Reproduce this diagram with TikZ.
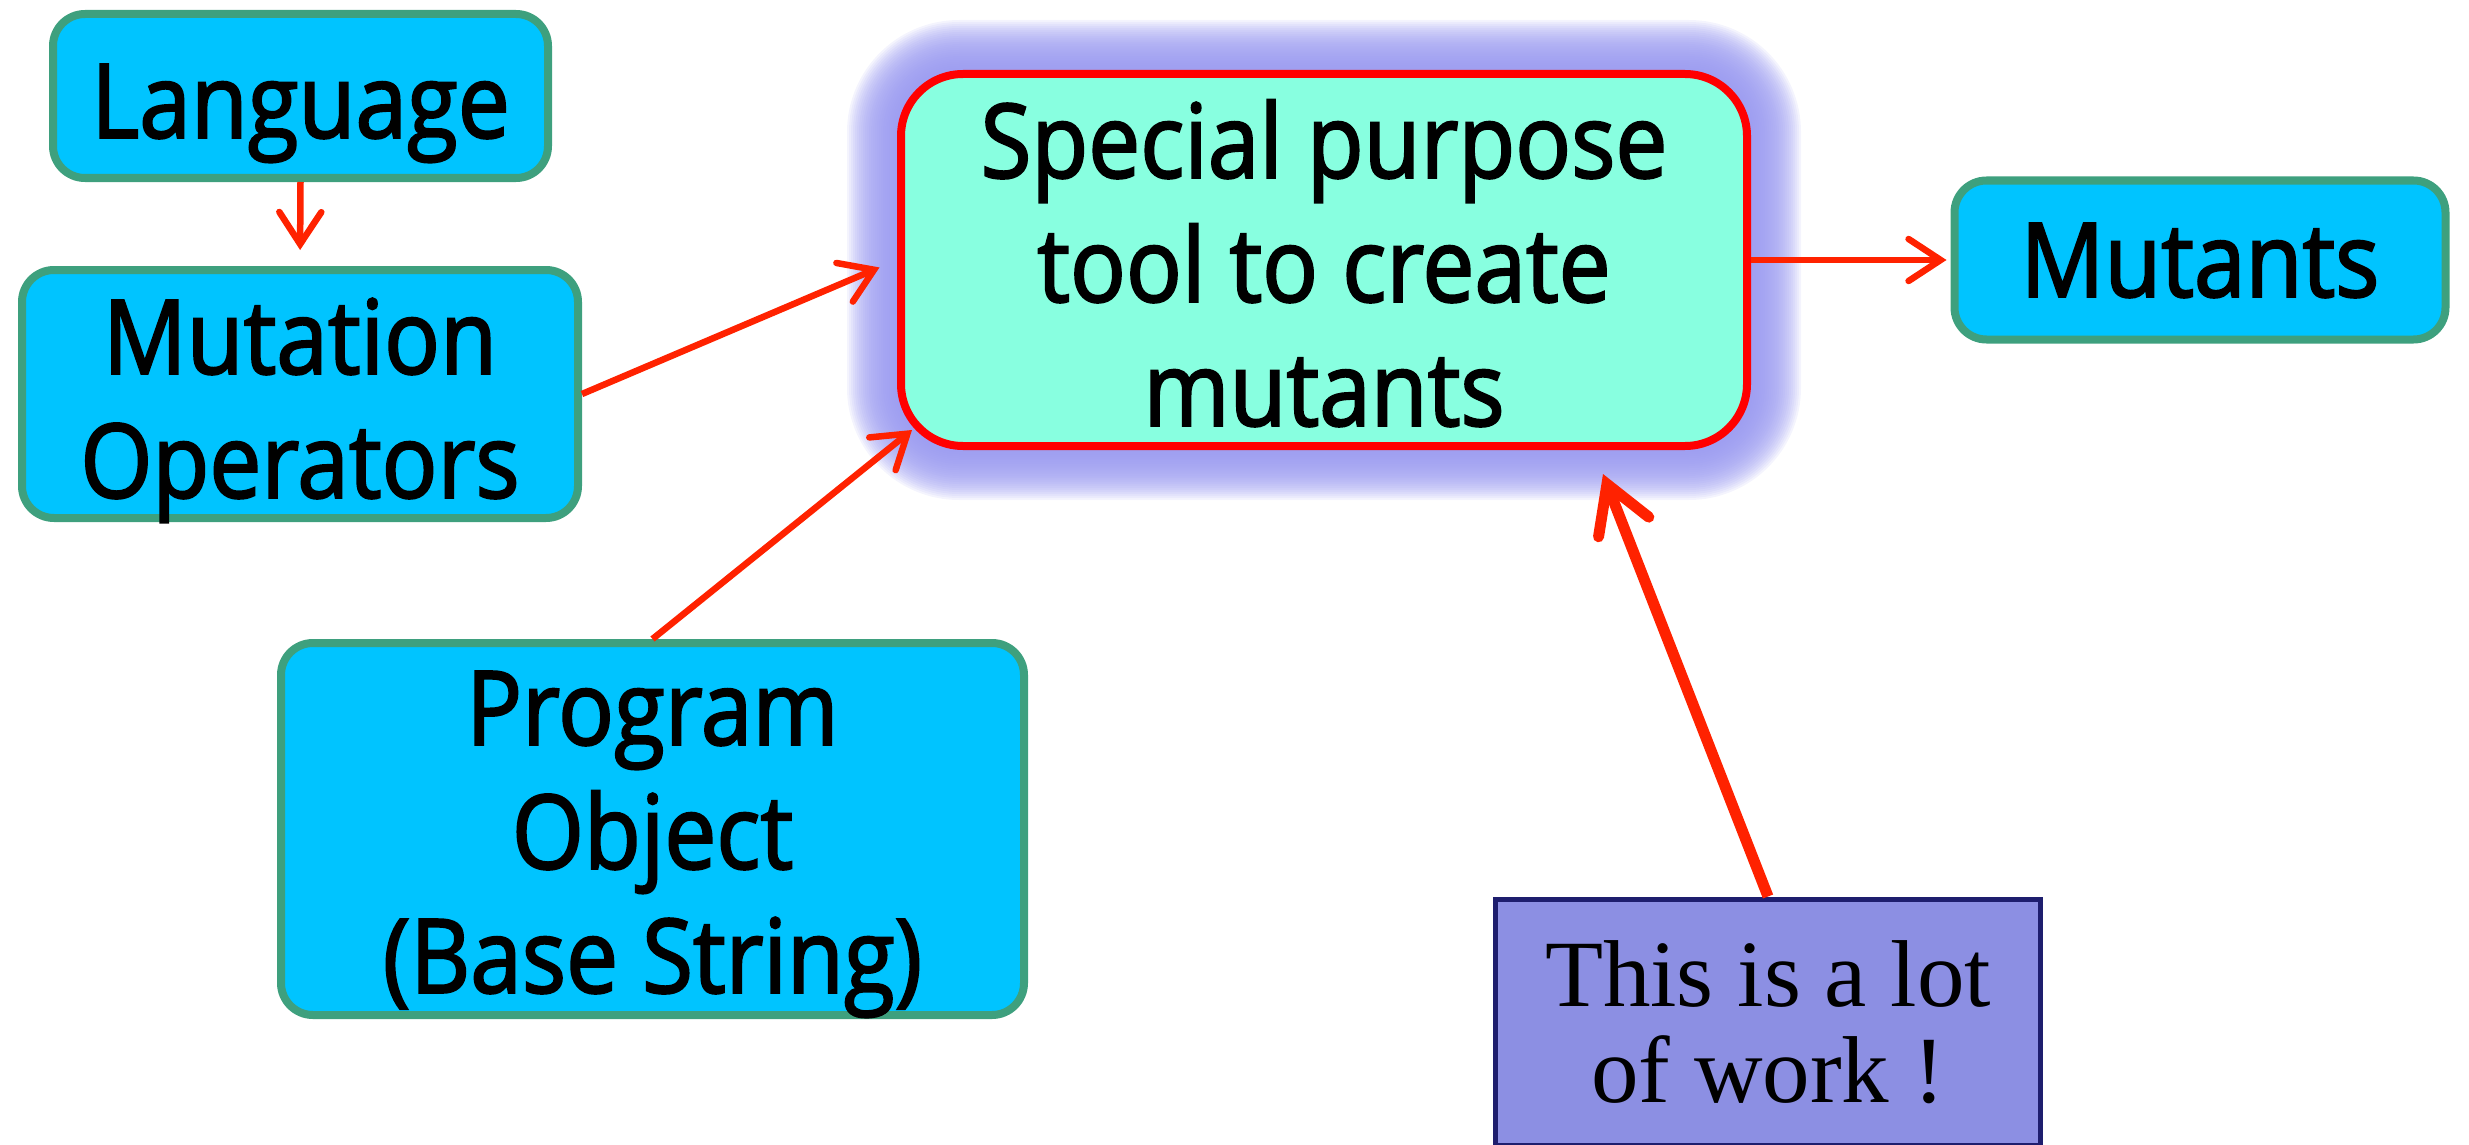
\documentclass[tikz,border=0pt]{standalone}
\usepackage{fontspec}
\setmainfont{Open Sans}
\newfontfamily\handfont{Open Sans}[FakeStretch=0.9,FakeBold=2]
\newfontfamily\notefont{Liberation Serif}
\usetikzlibrary{arrows.meta,calc}
\pgfdeclarelayer{glow}
\pgfsetlayers{glow,main}

\definecolor{boxcyan}{RGB}{0,196,255}
\definecolor{boxedge}{RGB}{62,160,126}
\definecolor{toolfill}{RGB}{136,255,224}
\definecolor{tooledge}{RGB}{255,0,0}
\definecolor{glowblue}{RGB}{152,152,240}
\definecolor{arrowred}{RGB}{255,34,0}
\definecolor{notefill}{RGB}{140,143,227}
\definecolor{noteedge}{RGB}{30,30,110}

% centred lines, set a little below the middle of their box
\newcommand\boxlines[2][17pt]{\raisebox{-#1}[\height][\depth]{%
  \begin{tabular}{@{}c@{}}#2\end{tabular}}}

\begin{document}
\begin{tikzpicture}[x=1pt,y=-1pt,
  cyanbox/.style={draw=boxedge, line width=8pt, fill=boxcyan, rounded corners=32pt,
    inner sep=0pt, font=\handfont\fontsize{103}{124}\selectfont},
  toolbox/.style={draw=tooledge, line width=8pt, fill=toolfill, rounded corners=62pt,
    inner sep=0pt, font=\handfont\fontsize{103}{124}\selectfont},
  notebox/.style={draw=noteedge, line width=5pt, fill=notefill, align=center,
    inner sep=0pt, font=\notefont\fontsize{95}{96}\selectfont},
  flow/.style={draw=arrowred, line width=6.5pt,
    -{Straight Barb[length=32pt,width=42pt,line cap=round]}},
  bigflow/.style={flow, line width=11pt,
    -{Straight Barb[length=46pt,width=54pt,line cap=round]}}]

\useasboundingbox (0,0) rectangle (2469,1145);

% boxes
\node[cyanbox, minimum width=495pt, minimum height=164pt] (lang) at (300.5,96)
  {\boxlines{Language}};
\node[cyanbox, minimum width=556pt, minimum height=224pt] (mutop) at (300,394)
  {\boxlines{Mutation\\Operators}};
\node[toolbox, minimum width=846pt, minimum height=368pt] (sp) at (1324,260)
  {\boxlines{Special purpose\\tool to create\\mutants}};
\node[cyanbox, minimum width=491pt, minimum height=159pt] (mut) at (2200,260)
  {\boxlines[12pt]{Mutants}};
\node[cyanbox, minimum width=743pt, minimum height=344pt] (prog) at (652.5,829)
  {\boxlines[15pt]{Program\\Object\\(Base String)}};
\node[notebox, minimum width=545pt, minimum height=246pt] (work) at (1768,1022)
  {This is a lot\\of work !};

% soft halo around the tool box
\begin{pgfonlayer}{glow}
  \foreach \d in {2,4,...,50}
    \fill[glowblue, opacity=0.1, rounded corners=62+\d]
      ($(sp.south west)+(-\d,\d)$) rectangle ($(sp.north east)+(\d,-\d)$);
\end{pgfonlayer}

% connectors
\coordinate (spcorner) at ($(sp.south west)+(15,-20)$);
\coordinate (spbelow) at ($(sp.south)+(279,24)$);
\draw[flow, shorten >=16pt] (lang.south) -- (mutop.north);
\draw[flow, shorten >=19pt] (mutop.east) -- (sp.west);
\draw[flow] (prog.north) -- (spcorner);
\draw[flow, shorten >=4pt] (sp.east) -- (mut.west);
\draw[bigflow] (work.north) -- (spbelow);
\end{tikzpicture}
\end{document}
